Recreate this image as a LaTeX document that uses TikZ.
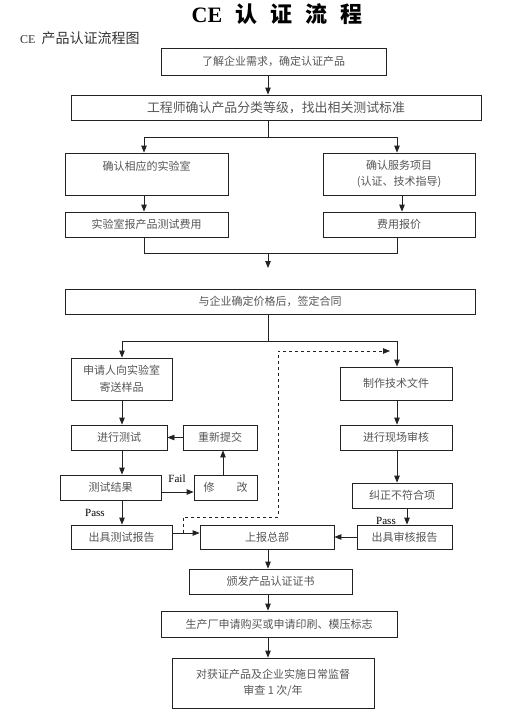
\documentclass[tikz,border=0pt]{standalone}
\usepackage{fontspec}
\setmainfont{Liberation Serif}
\newfontfamily\cjk{Noto Sans CJK SC}
\usetikzlibrary{arrows.meta,calc}
\definecolor{txt}{HTML}{555555}
\definecolor{ln}{HTML}{222222}
\tikzset{
  box/.style={draw=ln, line width=0.8pt, rectangle, inner sep=0pt, align=center,
    text=txt, font=\cjk\fontsize{11}{16.5}\selectfont},
  arr/.style={draw=ln, line width=0.8pt, -{Triangle[length=7pt,width=5.5pt]}},
  conn/.style={draw=ln, line width=0.8pt},
  lbl/.style={font=\fontsize{11}{13}\selectfont, text=black, inner sep=0pt}
}
\begin{document}
\begin{tikzpicture}[x=1pt,y=-1pt]
\useasboundingbox (0,0) rectangle (505,717);
% title
\node[inner sep=0pt] (title) at (277,14.5) {\fontsize{22}{24}\selectfont\bfseries CE\hspace{13pt}{\cjk 认\hspace{13pt}证\hspace{13pt}流\hspace{13pt}程}};
\node[anchor=west, inner sep=0pt, text=black!80] (sub) at (20,38) {\fontsize{12}{14}\selectfont CE\hspace{6pt}{\cjk\fontsize{14}{16}\selectfont 产品认证流程图}};
% x positions
\coordinate (sp) at (268,0);
\coordinate (lx) at (144,0);
\coordinate (rx) at (397,0);
\coordinate (rx2) at (402,0);
\coordinate (tx) at (122,0);
% boxes
\node[box, minimum width=225pt, minimum height=27pt] (b1) at (273.5,61.5) {了解企业需求，确定认证产品};
\node[box, minimum width=410pt, minimum height=25pt, font=\cjk\fontsize{12.9}{16}\selectfont] (b2) at (276,107.5) {工程师确认产品分类等级，找出相关测试标准};
\node[box, minimum width=163pt, minimum height=42pt] (lab) at (146.5,174) {确认相应的实验室\\\mbox{}};
\node[box, minimum width=152pt, minimum height=42pt] (svc) at (399,174) {确认服务项目\\(认证、技术指导)};
\node[box, minimum width=163pt, minimum height=25pt] (fee) at (146.5,224.5) {实验室报产品测试费用};
\node[box, minimum width=152pt, minimum height=25pt] (quote) at (399,224.5) {费用报价};
\node[box, minimum width=410pt, minimum height=25pt] (contract) at (270,301.5) {与企业确定价格后，签定合同};
\node[box, minimum width=101pt, minimum height=42pt] (sample) at (121.5,379) {申请人向实验室\\寄送样品};
\node[box, minimum width=112pt, minimum height=33pt] (doc) at (396,383.5) {制作技术文件};
\node[box, minimum width=96pt, minimum height=25pt] (test) at (119,437.5) {进行测试};
\node[box, minimum width=74pt, minimum height=25pt] (resub) at (220,437.5) {重新提交};
\node[box, minimum width=112pt, minimum height=25pt] (audit) at (396,437.5) {进行现场审核};
\node[box, minimum width=101pt, minimum height=25pt] (result) at (110.5,487.5) {测试结果};
\node[box, minimum width=63pt, minimum height=25pt] (modify) at (225.5,487.5) {修\hspace{2em}改};
\node[box, minimum width=100pt, minimum height=25pt] (correct) at (402,495.5) {纠正不符合项};
\node[box, minimum width=101pt, minimum height=24pt] (testrep) at (121.5,537) {出具测试报告};
\node[box, minimum width=134pt, minimum height=24pt] (hq) at (267,537) {上报总部};
\node[box, minimum width=95pt, minimum height=24pt] (auditrep) at (404.5,537) {出具审核报告};
\node[box, minimum width=163pt, minimum height=25pt] (cert) at (270.5,581.5) {颁发产品认证证书};
\node[box, minimum width=236pt, minimum height=26pt] (mark) at (279,624) {生产厂申请购买或申请印刷、模压标志};
\node[box, minimum width=202pt, minimum height=50pt] (sup) at (273,683) {\raisebox{3pt}{\begin{tabular}{@{}c@{}}对获证产品及企业实施日常监督\\审查 1 次/年\end{tabular}}};
% junctions
\coordinate (j1) at (268,137);
\coordinate (j2) at (268,253);
\coordinate (j2e) at (268,268);
\coordinate (j3) at (268,341);
\coordinate (d0) at (183,533);
\coordinate (d1) at (278,517);
\coordinate (d2) at (390,351);
% connectors
\draw[arr] (b1.south -| sp) -- (b2.north -| sp);
\draw[conn] (b2.south -| sp) -- (j1);
\draw[arr] (j1) -| (lab.north -| lx);
\draw[arr] (j1) -| (svc.north -| rx);
\draw[arr] (lab.south -| lx) -- (fee.north -| lx);
\draw[arr] (svc.south -| rx2) -- (quote.north -| rx2);
\draw[conn] (fee.south -| lx) |- (j2);
\draw[conn] (quote.south -| rx) |- (j2);
\draw[arr] (j2) -- (j2e);
\draw[conn] (contract.south -| sp) -- (j3);
\draw[arr] (j3) -| (sample.north -| tx);
\draw[arr] (j3) -| (doc.north -| rx);
\draw[arr] (sample.south -| tx) -- (test.north -| tx);
\draw[arr] (resub.west) -- (test.east);
\draw[arr] (test.south -| tx) -- (result.north -| tx);
\draw[arr] (result.east |- 0,492) -- (modify.west |- 0,492);
\node[lbl] (fail) at (177,479) {Fail};
\draw[arr] (modify.north -| 223,0) -- (resub.south -| 223,0);
\draw[arr] (result.south -| tx) -- (testrep.north -| tx);
\node[lbl] (pass1) at (95,513) {Pass};
\draw[arr] (doc.south -| rx) -- (audit.north -| rx);
\draw[arr] (audit.south -| rx) -- (correct.north -| rx);
\draw[arr] (correct.south -| 407,0) -- (auditrep.north -| 407,0);
\node[lbl] (pass2) at (386,521) {Pass};
\draw[arr] (auditrep.west) -- (hq.east);
\draw[arr] (testrep.east |- d0) -- (hq.west |- d0);
\draw[arr, dashed] (d0) |- (d1) |- (d2);
\draw[arr] (hq.south -| sp) -- (cert.north -| sp);
\draw[arr] (cert.south -| sp) -- (mark.north -| sp);
\draw[arr] (mark.south -| sp) -- (sup.north -| sp);
\end{tikzpicture}
\end{document}
